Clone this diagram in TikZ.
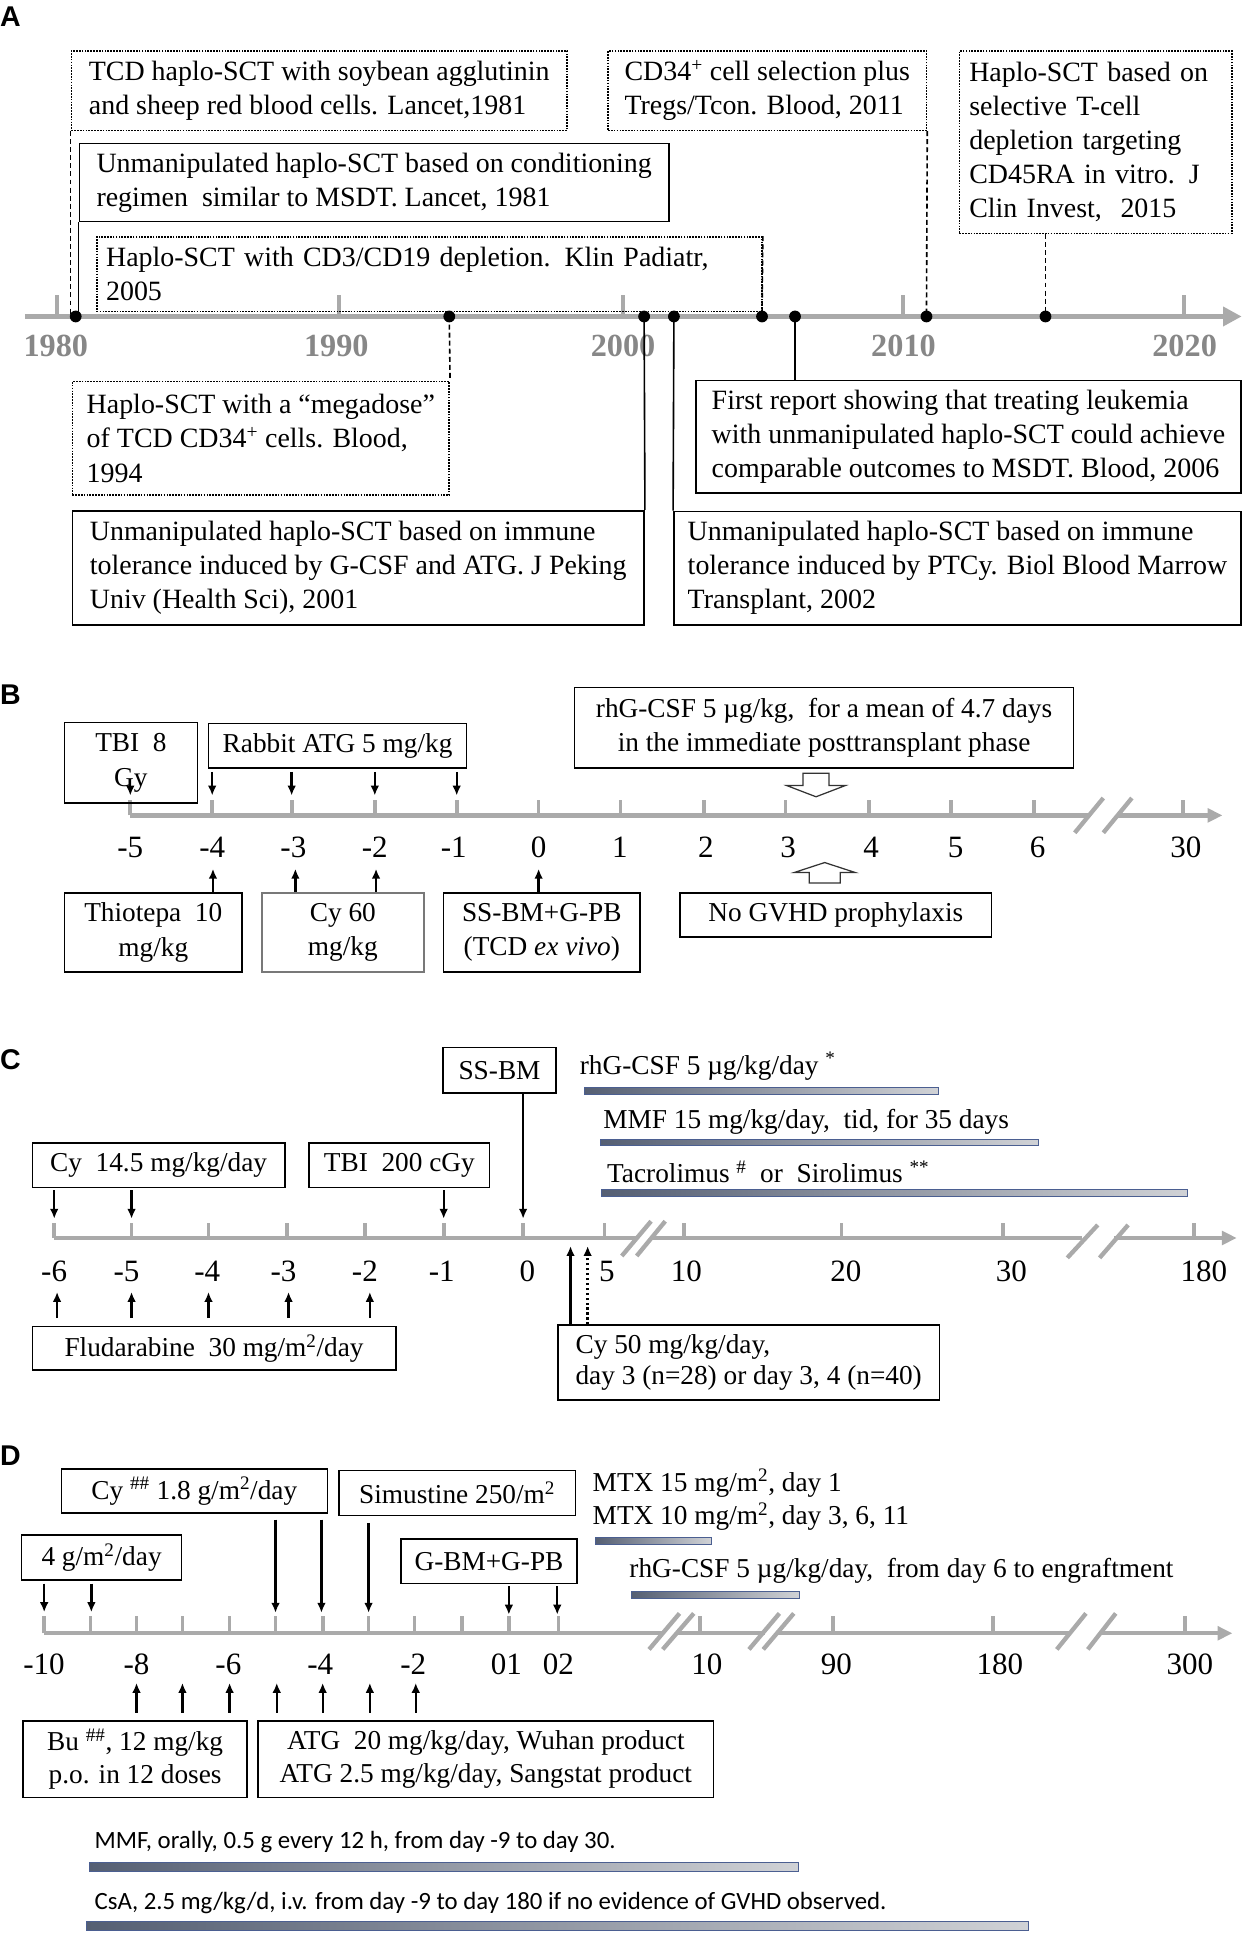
\documentclass[tikz,border=0pt]{standalone}
\usepackage{fontspec}
\setmainfont{Liberation Serif}
\newfontfamily\calfont{Carlito}
\newfontfamily\arialfont{Liberation Sans}
\usetikzlibrary{arrows.meta}
\definecolor{axisc}{RGB}{170,170,170}
\definecolor{yearc}{RGB}{135,135,135}
\definecolor{barL}{RGB}{85,95,115}
\definecolor{barR}{RGB}{208,210,214}
\definecolor{barE}{RGB}{75,95,145}
\definecolor{boxgray}{RGB}{120,120,120}
\newcommand\gbar[4]{%
  \shade[left color=barL, right color=barR] (#1,{#3-#4/2}) rectangle (#2,{#3+#4/2});
  \draw[barE, line width=0.7pt] (#1,{#3-#4/2}) rectangle (#2,{#3+#4/2});}
\tikzset{
  tx/.style={inner sep=0pt, font={\fontsize{22.5}{27.5}\selectfont}},
  sbox/.style={tx, draw, line width=1.3pt, align=left},
  dbox/.style={tx, draw, line width=1.3pt, densely dotted, align=left},
  cbox/.style={tx, draw, line width=1.2pt, align=center, font={\fontsize{22}{28}\selectfont}},
  axisline/.style={draw=axisc, line width=3.5pt},
  tickmark/.style={draw=axisc, line width=3pt},
  brk/.style={draw=axisc, line width=3.5pt},
  arr/.style={-{Latex[length=8pt,width=7pt]}, line width=1.9pt},
  dashc/.style={dash pattern=on 4pt off 2.5pt, line width=1.3pt},
  solc/.style={line width=1.3pt},
  dot/.style={circle, fill=black, inner sep=0pt, minimum size=9.5pt},
  lab/.style={inner sep=0pt, font={\fontsize{25}{25}\selectfont}},
  year/.style={inner sep=0pt, text=yearc, font={\fontsize{26}{26}\selectfont\bfseries}},
  sans/.style={inner sep=0pt, anchor=west, font={\calfont\fontsize{20}{20}\selectfont}},
  ltext/.style={inner sep=0pt, anchor=west, align=left, font={\fontsize{22}{27}\selectfont}},
  panel/.style={inner sep=0pt, anchor=west, font={\arialfont\fontsize{23}{23}\selectfont\bfseries}},
  hollow/.style={draw=black!80, line width=1pt, fill=white},
}
\begin{document}
\begin{tikzpicture}[x=1pt,y=-1pt]
\path[use as bounding box] (0,0) rectangle (1003,1568);

% ================= PANEL A =================
\node[panel] (labA) at (0,13.5) {A};
\draw[draw=axisc, line width=4.5pt, -{Triangle[length=15pt,width=15pt]}] (20,255) -- (1000.5,255);
\foreach \x in {46,273,502,727.5,954} \draw[draw=axisc, line width=3.5pt] (\x,255) -- (\x,238);
\node[year] (y80) at (45,279) {1980};
\node[year] (y90) at (271,279) {1990};
\node[year] (y00) at (502,279) {2000};
\node[year] (y10) at (728,279) {2010};
\node[year] (y20) at (954.5,279) {2020};

\coordinate (d81) at (61,255);
\coordinate (d94) at (362,255);
\coordinate (d01) at (519,255);
\coordinate (d02) at (543,255);
\coordinate (d05) at (614,255);
\coordinate (d06) at (640.6,255);
\coordinate (d11) at (746.5,255);
\coordinate (d15) at (842.4,255);

\node[dbox, minimum width=399.5pt, minimum height=64pt] (a1) at (257.25,73)
  {TCD haplo-SCT with soybean agglutinin\\and sheep red blood cells. Lancet,1981};
\node[dbox, minimum width=256.5pt, minimum height=64pt] (a2) at (618.25,73)
  {CD34\textsuperscript{+} cell selection plus\\Tregs/Tcon. Blood, 2011};
\node[dbox, inner xsep=8pt, text width=203.5pt, minimum height=147pt] (a3) at (882.75,114.5)
  {Haplo-SCT based on\\selective T-cell\\depletion targeting\\CD45RA in vitro. J\\Clin Invest,\ \ 2015};
\node[sbox, minimum width=475pt, minimum height=63pt] (a4) at (301.5,147)
  {Unmanipulated haplo-SCT based on conditioning\\regimen\ \ similar to MSDT. Lancet, 1981};
\node[dbox, inner xsep=7.5pt, text width=521pt, minimum height=60pt] (a5) at (346,221)
  {Haplo-SCT with CD3/CD19 depletion. Klin Padiatr,\\2005};
\node[dbox, minimum width=303.7pt, minimum height=91.5pt] (a6) at (210.15,353.25)
  {Haplo-SCT with a “megadose”\\of TCD CD34\textsuperscript{+} cells. Blood,\\1994};
\node[sbox, minimum width=460.7pt, minimum height=92pt] (a7) at (288.65,457.5)
  {Unmanipulated haplo-SCT based on immune\\tolerance induced by G-CSF and ATG. J Peking\\Univ (Health Sci), 2001};
\node[sbox, minimum width=439.4pt, minimum height=90.7pt] (a8) at (780.3,352)
  {First report showing that treating leukemia\\with unmanipulated haplo-SCT could achieve\\comparable outcomes to MSDT. Blood, 2006};
\node[sbox, minimum width=457pt, minimum height=91.5pt] (a9) at (771.5,457.75)
  {Unmanipulated haplo-SCT based on immune\\tolerance induced by PTCy. Biol Blood Marrow\\Transplant, 2002};

\draw[dashc] (a1.south west) -- (a1.south west |- d81);
\draw[solc] (a4.south west) -- (a4.south west |- d81);
\draw[dashc] (a5.north east) -- (d05);
\draw[dashc] (a2.south east) -- (d11);
\draw[dashc] (d15 |- a3.south) -- (d15);
\draw[dashc] (d94) -- (a6.north east);
\draw[solc] (d01) -- (a7.north east);
\draw[solc] (d02) -- (a9.north west);
\draw[solc] (d06) -- (d06 |- a8.north);
\foreach \d in {d81,d94,d01,d02,d05,d06,d11,d15} \node[dot] at (\d) {};

% ================= PANEL B =================
\node[panel] (labB) at (0,560) {B};
\draw[axisline] (105,657) -- (877.5,657);
\draw[axisline, -{Triangle[length=12pt,width=11pt]}] (900.5,657) -- (985,657);
\foreach \x in {105,171,235,302,368,434,500,567,633,700,766,833,953} \draw[tickmark] (\x,657) -- (\x,645);
\draw[brk] (866,671) -- (889,643);
\draw[brk] (889,671) -- (912,643);
\foreach \x/\t in {105/-5,171/-4,236.4/-3,302/-2,365.6/-1,434/0,499.5/1,568.7/2,635/3,702/4,770/5,836/6,955.6/30}
  \node[lab] at (\x,683) {\t};

\node[cbox, minimum width=107pt, minimum height=65pt] (b1) at (105.5,614.5) {TBI\ \ 8\\Gy};
\node[cbox, minimum width=208pt, minimum height=36pt] (b2) at (272,601) {Rabbit ATG 5 mg/kg};
\node[cbox, minimum width=402pt, minimum height=65pt] (b3) at (664,586.5)
  {rhG-CSF 5 µg/kg,\ \ for a mean of 4.7 days\\in the immediate posttransplant phase};
\node[cbox, minimum width=143pt, minimum height=63.5pt] (b4) at (123.5,751.25) {Thiotepa\ \ 10\\mg/kg};
\node[cbox, draw=boxgray, minimum width=130.5pt, minimum height=63.5pt] (b5) at (276.25,751.25) {Cy 60\\mg/kg};
\node[cbox, minimum width=158.1pt, minimum height=63.5pt] (b6) at (436.55,751.25) {SS-BM+G-PB\\(TCD \textit{ex vivo})};
\node[cbox, minimum width=251pt, minimum height=35.5pt] (b7) at (673.5,737.25) {No GVHD prophylaxis};

\draw[arr] (105,628) -- (105,641);
\foreach \x in {171,235,302,368} \draw[arr] (\x,622) -- (\x,641);
\foreach \x in {171.6,238,303,434} \draw[arr] (\x,718.5) -- (\x,700);
\draw[hollow] (647,623) -- (668,623) -- (668,633) -- (681,633) -- (657.5,642) -- (634,633) -- (647,633) -- cycle;
\draw[hollow] (652,711.5) -- (677,711.5) -- (677,703) -- (689,703) -- (664.5,695) -- (640,703) -- (652,703) -- cycle;

% ================= PANEL C =================
\node[panel] (labC) at (0,854) {C};
\draw[axisline] (43.7,997.5) -- (512.8,997.5);
\draw[axisline] (524.5,997.5) -- (872,997.5);
\draw[axisline, -{Triangle[length=12pt,width=11pt]}] (897.5,997.5) -- (996.5,997.5);
\foreach \x in {43.7,106,168,231,294,357.5,421.5,487,551,678,808,962} \draw[tickmark] (\x,997.5) -- (\x,985.5);
\draw[brk] (501,1012) -- (524.6,984);
\draw[brk] (513,1012) -- (536,984);
\draw[brk] (860,1013.5) -- (884.5,987);
\draw[brk] (886,1013.5) -- (909,987);
\foreach \x/\t in {43.6/-6,102/-5,167/-4,228.5/-3,294/-2,356/-1,425/0,489/5,553/10,681.5/20,815/30,970/180}
  \node[lab] at (\x,1024.5) {\t};

\node[cbox, minimum width=91pt, minimum height=36.5pt] (c1) at (402.5,862.25) {SS-BM};
\node[cbox, minimum width=203.6pt, minimum height=36pt] (c2) at (127.8,939) {Cy\ \ 14.5 mg/kg/day};
\node[cbox, minimum width=145.6pt, minimum height=36pt] (c3) at (321.8,939) {TBI\ \ 200 cGy};
\node[cbox, minimum width=293pt, minimum height=35pt] (c4) at (172.5,1086.5) {Fludarabine\ \ 30 mg/m\textsuperscript{2}/day};
\node[cbox, align=left, font={\fontsize{22}{25.5}\selectfont}, minimum width=307.5pt, minimum height=60.5pt] (c5) at (603.25,1097.75)
  {Cy 50 mg/kg/day,\\day 3 (n=28) or day 3, 4 (n=40)};

\node[ltext] (c6) at (467,859) {rhG-CSF 5 µg/kg/day \textsuperscript{*}};
\node[ltext] (c7) at (486,903.6) {MMF 15 mg/kg/day,\ \ tid, for 35 days};
\node[ltext] (c8) at (489,944) {Tacrolimus \textsuperscript{\#}\ \ or\ \ Sirolimus \textsuperscript{**}};
\gbar{471}{756}{879}{5.5}
\gbar{484}{837}{920.5}{5.5}
\gbar{485}{957}{961}{5.5}

\coordinate (c0) at (421.5,997.5);
\foreach \x in {43.7,106,357.5} \draw[arr] (\x,959) -- (\x,982);
\draw[arr] (c0 |- c1.south) -- (421.5,982);
\foreach \x in {46,106,168,232.5,298} \draw[arr] (\x,1062) -- (\x,1041);
\draw[arr] (459.7,1067.5) -- (459.7,1004);
\draw[arr, dash pattern=on 2pt off 2pt] (473.5,1067.5) -- (473.5,1004);

% ================= PANEL D =================
\node[panel] (labD) at (0,1173) {D};
\draw[axisline] (35.6,1316) -- (535,1316);
\draw[axisline] (546.5,1316) -- (616,1316);
\draw[axisline] (627,1316) -- (863,1316);
\draw[axisline, -{Triangle[length=12pt,width=11pt]}] (888,1316) -- (993,1316);
\foreach \x in {35.6,73,110,147,185,222,260,297,334,372,410,450,564,671,800,955} \draw[tickmark] (\x,1316) -- (\x,1302.4);
\draw[brk] (523,1329) -- (547.5,1300);
\draw[brk] (534,1329) -- (559,1300);
\draw[brk] (603.5,1329) -- (628,1300);
\draw[brk] (615,1329) -- (639.6,1300);
\draw[brk] (851.5,1329) -- (875,1300);
\draw[brk] (876.5,1329) -- (899,1300);
\foreach \x/\t in {35.5/-10,110/-8,184/-6,258/-4,333/-2,408/01,450/02,569.5/10,674/90,805.6/180,958.7/300}
  \node[lab] at (\x,1341) {\t};

\node[cbox, minimum width=214.3pt, minimum height=35.3pt] (d1) at (156.55,1201.35) {Cy \textsuperscript{\#\#} 1.8 g/m\textsuperscript{2}/day};
\node[cbox, minimum width=190.6pt, minimum height=36pt] (d2) at (368.3,1203) {Simustine 250/m\textsuperscript{2}};
\node[cbox, minimum width=128.9pt, minimum height=36pt] (d3) at (81.85,1255) {4 g/m\textsuperscript{2}/day};
\node[cbox, minimum width=142pt, minimum height=36pt] (d4) at (394,1258) {G-BM+G-PB};
\node[cbox, font={\fontsize{22}{26.8}\selectfont}, minimum width=180.3pt, minimum height=62pt] (d5) at (108.85,1417.5)
  {Bu \textsuperscript{\#\#}, 12 mg/kg\\p.o. in 12 doses};
\node[cbox, font={\fontsize{22}{26.8}\selectfont}, minimum width=367pt, minimum height=62pt] (d6) at (391.5,1417.5)
  {ATG\ \ 20 mg/kg/day,\ Wuhan product\\ATG 2.5 mg/kg/day,\ Sangstat product};

\node[ltext] (d7) at (477.4,1208.5) {MTX 15 mg/m\textsuperscript{2}, day 1\\MTX 10 mg/m\textsuperscript{2}, day 3, 6, 11};
\node[ltext] (d8) at (507,1266) {rhG-CSF 5 µg/kg/day,\ \ from day 6 to engraftment};
\gbar{480}{573}{1241.7}{5.5}
\gbar{509}{644}{1285.3}{5.5}

\foreach \x in {35.6,73.6} \draw[arr] (\x,1276) -- (\x,1299);
\foreach \x in {410,449} \draw[arr] (\x,1278) -- (\x,1301);
\foreach \x in {222,259} \draw[arr] (\x,1224.5) -- (\x,1299.5);
\draw[arr] (297,1227) -- (297,1299.5);
\foreach \x in {110,147,185,223,260,298,335} \draw[arr] (\x,1380) -- (\x,1356);

\node[sans] (d9) at (76,1484) {MMF, orally, 0.5 g every 12 h, from day -9 to day 30.};
\gbar{72}{643}{1504}{7}
\node[sans] (d10) at (76,1533) {CsA, 2.5 mg/kg/d, i.v. from day -9 to day 180 if no evidence of GVHD observed.};
\gbar{70}{829}{1552}{7}
\end{tikzpicture}
\end{document}
